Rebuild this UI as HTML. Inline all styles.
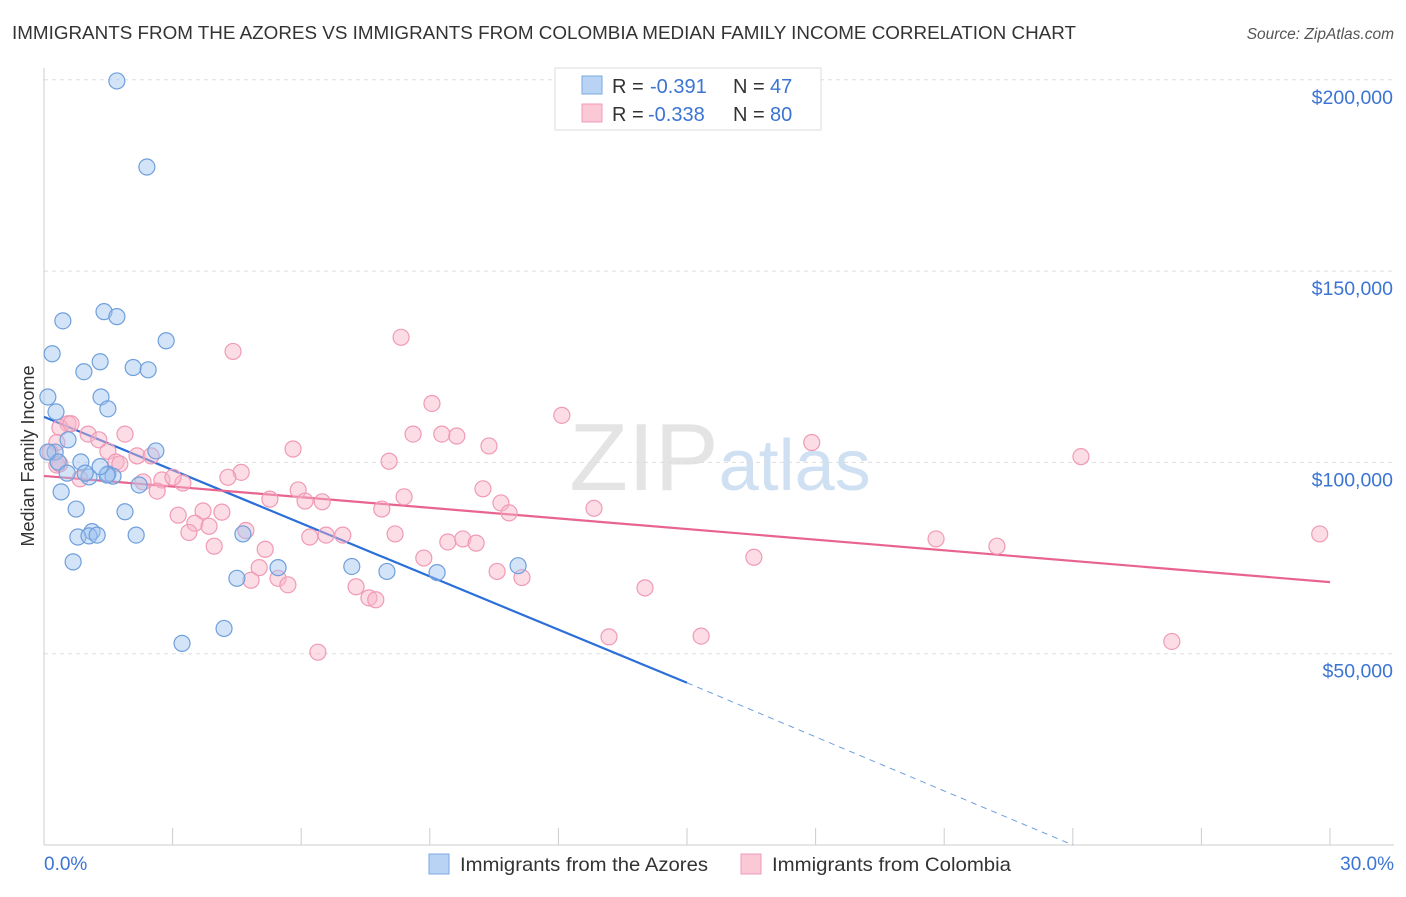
<!DOCTYPE html>
<html><head><meta charset="utf-8"><style>
body{margin:0;background:#fff;font-family:"Liberation Sans",sans-serif;}
svg text{font-family:"Liberation Sans",sans-serif;}
</style></head><body>
<svg id="chart" width="1406" height="892" xmlns="http://www.w3.org/2000/svg">
<text x="12" y="39" font-size="18" fill="#333" textLength="1064" lengthAdjust="spacingAndGlyphs">IMMIGRANTS FROM THE AZORES VS IMMIGRANTS FROM COLOMBIA MEDIAN FAMILY INCOME CORRELATION CHART</text>
<text x="1394" y="39" font-size="15.5" fill="#555" text-anchor="end" font-style="italic">Source: ZipAtlas.com</text>
<text x="720" y="490" font-size="96" fill="#e4e4e4" text-anchor="middle" font-family="Liberation Serif">ZIP<tspan fill="#cfe0f2" font-family="Liberation Sans" font-size="72">atlas</tspan></text>
<g id="grid"></g><g id="axes"></g><g id="lines"></g><g id="pts"></g>
<text transform="translate(34,456) rotate(-90)" font-size="18" fill="#333" text-anchor="middle">Median Family Income</text>
<g>
<rect x="555" y="68" width="266" height="62" fill="#fff" stroke="#ddd"/>
<rect x="582" y="76" width="20" height="18" fill="#b8d3f3" stroke="#7aa9e0"/>
<rect x="582" y="104" width="20" height="18" fill="#fbc8d6" stroke="#f09ab5"/>
<text x="612" y="93" font-size="20" fill="#333">R =</text><text x="650" y="93" font-size="20" fill="#3b74d3">-0.391</text>
<text x="733" y="93" font-size="20" fill="#333">N =</text><text x="770" y="93" font-size="20" fill="#3b74d3">47</text>
<text x="612" y="121" font-size="20" fill="#333">R =</text><text x="648" y="121" font-size="20" fill="#3b74d3">-0.338</text>
<text x="733" y="121" font-size="20" fill="#333">N =</text><text x="770" y="121" font-size="20" fill="#3b74d3">80</text>
</g>
<g>
<rect x="429" y="854" width="20" height="20" fill="#b8d3f3" stroke="#7aa9e0"/>
<text x="460" y="871" font-size="19.5" fill="#333" textLength="248" lengthAdjust="spacingAndGlyphs">Immigrants from the Azores</text>
<rect x="741" y="854" width="20" height="20" fill="#fbc8d6" stroke="#f09ab5"/>
<text x="772" y="871" font-size="19.5" fill="#333" textLength="239" lengthAdjust="spacingAndGlyphs">Immigrants from Colombia</text>
</g>
</svg>
<script>
const yTicks=[50000,100000,150000,200000];
const yTickLabels=["$50,000","$100,000","$150,000","$200,000"];
const xTicks=[0,3,6,9,12,15,18,21,24,27,30];
const blueX=[1.7,2.4,0.44,1.4,1.7,2.85,0.19,1.31,0.93,2.08,2.43,0.09,1.33,1.49,0.28,0.56,0.26,2.61,0.86,0.33,0.54,1.05,0.96,1.49,1.61,2.22,0.4,0.75,1.89,1.12,0.79,1.05,1.24,2.15,4.64,0.68,5.46,4.5,7.18,8.0,9.17,11.06,4.2,3.22,1.47,0.09,1.31];
const blueY=[199700,177200,137000,139400,138100,131800,128400,126300,123700,124800,124200,117100,117100,114000,113200,105900,102700,103000,100100,100100,97200,96200,97200,97000,96400,94100,92300,87800,87100,81900,80500,80800,81000,81000,81300,74000,72500,69700,72800,71500,71200,73000,56600,52700,96700,102700,98900];
const pinkX=[8.33,4.41,9.05,12.08,17.91,24.19,0.56,0.37,0.63,1.03,1.89,1.28,0.30,8.61,9.28,9.63,10.38,5.81,2.17,1.49,2.5,1.68,8.05,4.6,4.29,0.30,0.84,2.31,2.75,3.24,3.01,10.24,5.93,5.27,6.09,6.49,8.4,10.66,10.85,2.64,12.83,7.88,3.71,4.15,3.13,3.52,3.85,3.38,4.71,6.2,6.58,6.97,8.19,9.42,9.77,10.08,3.97,5.16,8.86,16.56,20.81,22.23,29.76,5.02,5.46,4.83,10.57,11.15,5.69,7.28,7.58,7.74,14.02,13.18,15.33,6.39,26.31,0.37,0.14,1.77];
const pinkY=[132700,129000,115400,112300,105200,101500,110100,109100,110100,107400,107400,105900,105200,107400,107400,106900,104300,103500,101700,102900,101700,100100,100300,97400,96100,99300,95700,94900,95400,94600,96100,93100,92800,90400,89900,89700,91000,89400,86800,92500,88000,87800,87300,87000,86200,84100,83300,81700,82200,80500,81000,81000,81300,79200,80000,78900,78100,77300,75000,75200,80000,78100,81300,72500,69700,69200,71500,69900,68000,67500,64600,64100,67200,54400,54600,50400,53200,99600,102700,99600];
const blueLine=[0,111900,15,42400,24,0];
const pinkLine=[0,96460,30,68700];
const X0=44,X1=1330,YB=845,YPX=191.3/50000;
const sx=v=>X0+(X1-X0)*v/30, sy=v=>YB-v*YPX;
const NS="http://www.w3.org/2000/svg";
function mk(p,t,a){const e=document.createElementNS(NS,t);for(const k in a)e.setAttribute(k,a[k]);document.getElementById(p).appendChild(e);return e;}
yTicks.forEach((v,i)=>{
 const g=mk('grid','line',{x1:44,x2:1394,y1:sy(v),y2:sy(v),stroke:'#ddd','stroke-dasharray':'4,4'});
 
 
 const t=mk('axes','text',{x:1393,y:sy(v)+24,'font-size':19.5,fill:'#3b74d3','text-anchor':'end'});
 t.textContent=yTickLabels[i];
 
 
});
const ax=mk('axes','line',{x1:44,x2:1394,y1:845,y2:845,stroke:'#ccc'});


const ay=mk('axes','line',{x1:44,x2:44,y1:68,y2:845,stroke:'#ccc'});


xTicks.forEach(v=>{const t=mk('axes','line',{x1:sx(v),x2:sx(v),y1:828,y2:845,stroke:'#ccc'});
 
 });
[[0,"0.0%","start",44],[30,"30.0%","end",1394]].forEach(d=>{const t=mk('axes','text',{x:d[3],y:870,'font-size':19,fill:'#3b74d3','text-anchor':d[2]});t.textContent=d[1];
 
 });
function pts(xs,ys,fill,stroke,name){xs.forEach((x,i)=>{const c=mk('pts','circle',{cx:sx(x),cy:sy(ys[i]),r:8,fill:fill,stroke:stroke,'stroke-width':1.2});
 
 });}
pts(pinkX,pinkY,'rgba(248,180,200,0.45)','#f09ab5','colombia-point');
pts(blueX,blueY,'rgba(160,196,240,0.45)','#6f9fdc','azores-point');
const bl=mk('lines','line',{x1:sx(blueLine[0]),y1:sy(blueLine[1]),x2:sx(blueLine[2]),y2:sy(blueLine[3]),stroke:'#2b6fd8','stroke-width':2.2});


const bd=mk('lines','line',{x1:sx(blueLine[2]),y1:sy(blueLine[3]),x2:sx(blueLine[4]),y2:sy(blueLine[5]),stroke:'#6f9fdc','stroke-width':1,'stroke-dasharray':'6,5'});


const pl=mk('lines','line',{x1:sx(pinkLine[0]),y1:sy(pinkLine[1]),x2:sx(pinkLine[2]),y2:sy(pinkLine[3]),stroke:'#e8648f','stroke-width':2.2});


</script>
</body></html>
